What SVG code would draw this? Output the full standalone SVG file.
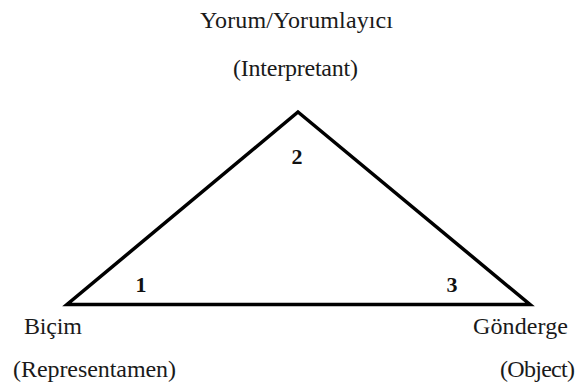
<svg xmlns="http://www.w3.org/2000/svg" width="580" height="386" viewBox="0 0 580 386">
<style>
.t{font-family:"Liberation Serif","Times New Roman",serif;font-size:24px;fill:#1a1a1a}
.n{font-family:"Liberation Serif","Times New Roman",serif;font-size:22px;font-weight:bold;fill:#111}
.e{fill:none;stroke:#000;stroke-width:3.5;stroke-linejoin:miter}
</style>
<rect width="580" height="386" fill="#fff"/>
<g id="connectors">
<polygon class="e" points="298,112 530,304.5 67,304.5"/>
</g>
<g id="interpretant">
<text class="t" x="200" y="28" textLength="193">Yorum/Yorumlayıcı</text>
<text class="t" x="233" y="76" textLength="125">(Interpretant)</text>
<text class="n" x="297" y="164" text-anchor="middle">2</text>
</g>
<g id="representamen">
<text class="t" x="24" y="334" textLength="58">Biçim</text>
<text class="t" x="13" y="377" textLength="163">(Representamen)</text>
<text class="n" x="141" y="292" text-anchor="middle">1</text>
</g>
<g id="object">
<text class="t" x="473" y="334" textLength="95">Gönderge</text>
<text class="t" x="500" y="377" textLength="75">(Object)</text>
<text class="n" x="452" y="292" text-anchor="middle">3</text>
</g>
</svg>
